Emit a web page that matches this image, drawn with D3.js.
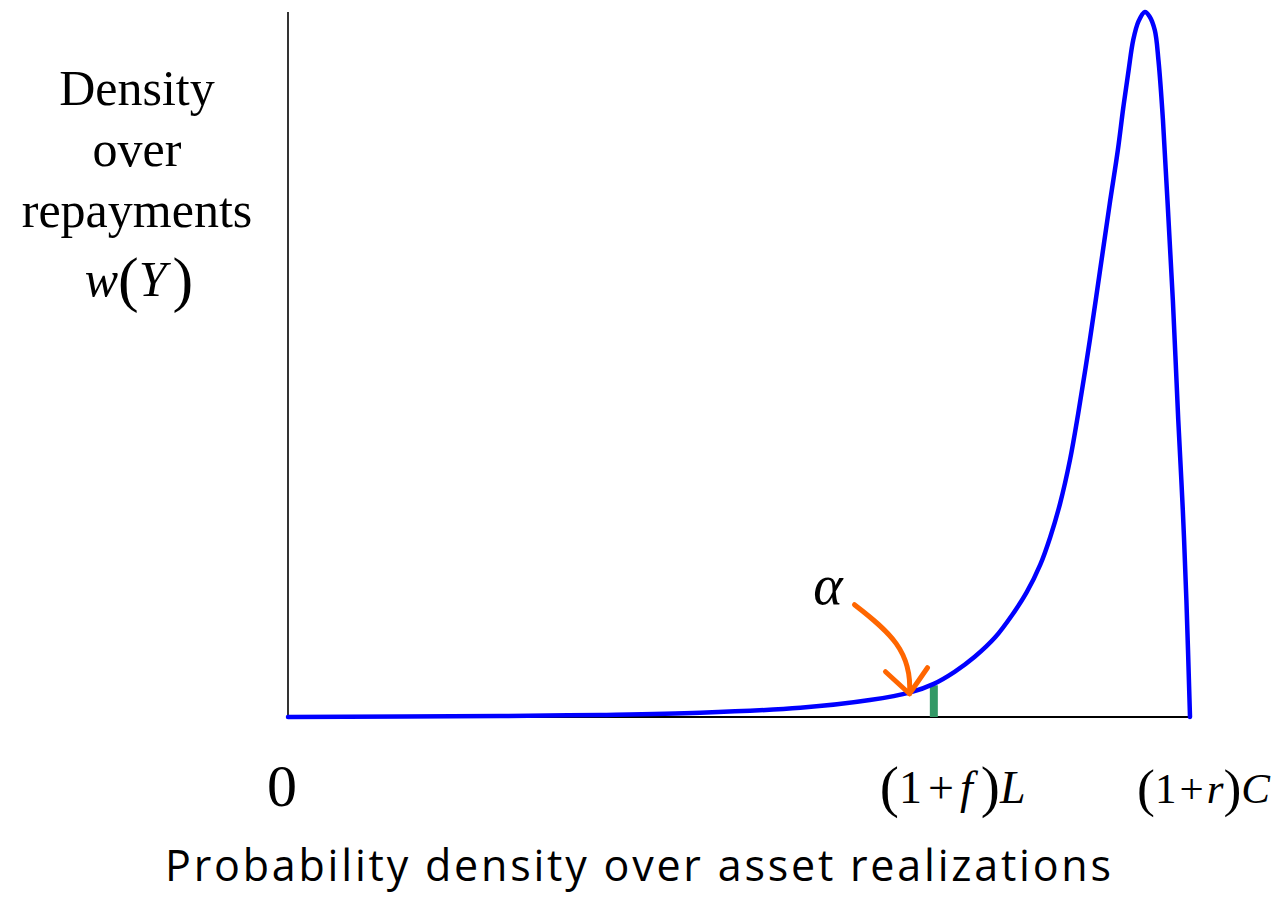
<!DOCTYPE html>
<html>
<head>
<meta charset="utf-8">
<script src="https://cdn.jsdelivr.net/npm/d3@7"></script>
<style>
  html, body { margin: 0; padding: 0; background: #fff; }
  svg { display: block; }
</style>
</head>
<body>
<svg id="chart" width="1273" height="902"></svg>
<script>
// Normalised repayment level Y, with (1+r)C = 1
const repayX = [0, 0.235, 0.346, 0.457, 0.568, 0.645, 0.690, 0.716, 0.739, 0.761, 0.784, 0.803,
  0.819, 0.834, 0.845, 0.856, 0.867, 0.876, 0.889, 0.900, 0.911, 0.920, 0.926, 0.932, 0.937,
  0.943, 0.950, 0.955, 0.961, 0.965, 0.970, 0.975, 0.981, 0.987, 0.992, 0.996, 1.0];
// Density w(Y), scaled so the peak is 1
const densityY = [0, 0.0014, 0.003, 0.006, 0.013, 0.024, 0.035, 0.047, 0.064, 0.085, 0.113, 0.145,
  0.177, 0.216, 0.255, 0.303, 0.365, 0.430, 0.535, 0.631, 0.728, 0.804, 0.864, 0.918, 0.960,
  0.987, 1.0, 0.994, 0.974, 0.932, 0.847, 0.733, 0.591, 0.421, 0.294, 0.166, 0];

// Positions of the marked repayment levels on the Y axis
const tickValues = [0, 0.716, 1.0];
const tickNames = ["zero", "fL", "rC"];
// Threshold (1+f)L and its density, where the green marker sits
const thresholdX = 0.716;
const thresholdY = 0.045;

const svg = d3.select("#chart");
const x = d3.scaleLinear().domain([0, 1]).range([288, 1190]);
const y = d3.scaleLinear().domain([0, 1]).range([717, 12]);

// Axes: plain lines, no ticks
svg.append("line")
  .attr("x1", x(0)).attr("x2", x(0)).attr("y1", y(1)).attr("y2", y(0))
  .attr("stroke", "#000").attr("stroke-width", 1.6);
svg.append("line")
  .attr("x1", x(0)).attr("x2", x(1)).attr("y1", y(0)).attr("y2", y(0))
  .attr("stroke", "#000").attr("stroke-width", 1.8);

// Green marker at the threshold
svg.append("line")
  .attr("x1", x(thresholdX)).attr("x2", x(thresholdX))
  .attr("y1", y(thresholdY)).attr("y2", y(0))
  .attr("stroke", "#339966").attr("stroke-width", 8);

// Density curve
const pts = repayX.map((v, i) => [v, densityY[i]]);
svg.append("path")
  .datum(pts)
  .attr("fill", "none")
  .attr("stroke", "#0000ff")
  .attr("stroke-width", 4.5)
  .attr("stroke-linejoin", "round")
  .attr("stroke-linecap", "round")
  .attr("d", d3.line().x(d => x(d[0])).y(d => y(d[1])).curve(d3.curveCatmullRom.alpha(0.5)));

// Orange arrow pointing at the threshold region (alpha)
const tipX = x(0.689), tipY = y(0.033);
const arrow = svg.append("g").attr("stroke", "#ff6600").attr("stroke-width", 5)
  .attr("fill", "none").attr("stroke-linecap", "round").attr("stroke-linejoin", "round");
arrow.append("path")
  .attr("d", `M${tipX - 55},${tipY - 89} C${tipX - 20},${tipY - 62} ${tipX + 3},${tipY - 42} ${tipX},${tipY}`);
arrow.append("path")
  .attr("d", `M${tipX - 24},${tipY - 22} L${tipX},${tipY} L${tipX + 18},${tipY - 26}`);

const serif = "'Liberation Serif', 'Times New Roman', serif";

// Alpha label
svg.append("text")
  .attr("x", 828).attr("y", 604)
  .attr("text-anchor", "middle")
  .attr("font-family", serif).attr("font-style", "italic")
  .attr("font-size", 56).text("α");

// Y-axis title
const yTitle = svg.append("text")
  .attr("font-family", serif).attr("font-size", 50)
  .attr("text-anchor", "middle").attr("fill", "#000");
["Density", "over", "repayments"].forEach((t, i) => {
  yTitle.append("tspan").attr("x", 137).attr("y", 105 + i * 61).text(t);
});
const wY = svg.append("text")
  .attr("x", 139).attr("y", 296)
  .attr("text-anchor", "middle")
  .attr("font-family", serif).attr("font-size", 50);
wY.append("tspan").attr("font-style", "italic").text("w");
wY.append("tspan").attr("font-size", 62).attr("dy", 4).text("(");
wY.append("tspan").attr("font-style", "italic").attr("dy", -4).text("Y");
wY.append("tspan").attr("font-size", 62).attr("dx", 6).attr("dy", 4).text(")");

// Tick labels under the X axis
const tickY = 806;
function tickLabel(name) {
  return tickValues[tickNames.indexOf(name)];
}
svg.append("text")
  .attr("x", x(tickLabel("zero")) - 6).attr("y", tickY)
  .attr("text-anchor", "middle")
  .attr("font-family", serif).attr("font-size", 60).text("0");

function factorLabel(xStart, sym, tail, gap, size) {
  const t = svg.append("text")
    .attr("x", xStart).attr("y", tickY - 3)
    .attr("text-anchor", "start")
    .attr("font-family", serif).attr("font-size", size);
  t.append("tspan").attr("font-size", size * 1.25).attr("dy", 3).text("(");
  t.append("tspan").attr("dy", -3).text("1");
  t.append("tspan").attr("dx", gap).text("+");
  t.append("tspan").attr("dx", gap).attr("font-style", "italic").text(sym);
  t.append("tspan").attr("font-size", size * 1.25).attr("dx", sym === "f" ? 8 : 0).attr("dy", 3).text(")");
  t.append("tspan").attr("font-style", "italic").attr("dy", -3).text(tail);
}
factorLabel(x(tickLabel("fL")) - 54, "f", "L", 6, 46);
factorLabel(x(tickLabel("rC")) - 53, "r", "C", 3, 43);

// X-axis title
svg.append("text")
  .attr("x", 638).attr("y", 881)
  .attr("text-anchor", "middle")
  .attr("font-family", "'Open Sans', 'Noto Sans', sans-serif")
  .attr("font-size", 43)
  .attr("textLength", 946).attr("lengthAdjust", "spacing")
  .text("Probability density over asset realizations");
</script>
</body>
</html>
